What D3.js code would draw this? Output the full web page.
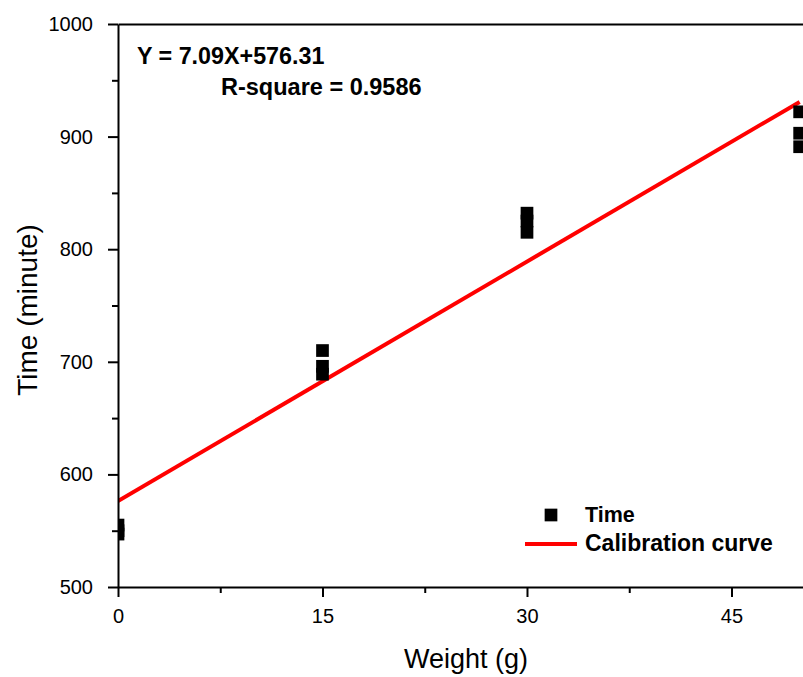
<!DOCTYPE html>
<html>
<head>
<meta charset="utf-8">
<script src="https://cdn.jsdelivr.net/npm/d3@7"></script>
<style>
  html, body { margin: 0; padding: 0; background: #fff; }
  svg { display: block; }
  text { font-family: "Liberation Sans", Arial, sans-serif; fill: #000; }
</style>
</head>
<body>
<svg id="chart" width="803" height="677"></svg>
<script>
// ---- data ----
const weights = [0, 0, 0, 15, 15, 15, 30, 30, 30, 50, 50, 50];
const times   = [555, 550, 547, 710, 696, 689, 832, 825, 815, 922, 903, 891];
const slope = 7.09;
const intercept = 576.31;
const fitRange = [0, 50];
const xMajorTicks = [0, 15, 30, 45];
const xMinorTicks = [7.5, 22.5, 37.5];
const yMajorTicks = [500, 600, 700, 800, 900, 1000];
const yMinorTicks = [550, 650, 750, 850, 950];
const equationText = "Y = 7.09X+576.31";
const rSquareText = "R-square = 0.9586";
const legendLabels = ["Time", "Calibration curve"];
const xTitle = "Weight (g)";
const yTitle = "Time (minute)";

(function () {
// ---- layout ----
const svg = d3.select("#chart");
const mLeft = 118, mTop = 24, mBottom = 587;
const pxPerUnit = 13.633;
const x = d3.scaleLinear().domain([0, 52]).range([mLeft, mLeft + 52 * pxPerUnit]);
const y = d3.scaleLinear().domain([500, 1000]).range([mBottom, mTop]);

svg.append("defs").append("clipPath").attr("id", "plotclip")
  .append("rect").attr("x", mLeft).attr("y", mTop).attr("width", 900).attr("height", mBottom - mTop);

const plot = svg.append("g").attr("clip-path", "url(#plotclip)");

// fit line
const fitLine = d3.line().x(d => x(d)).y(d => y(slope * d + intercept));
plot.append("path")
  .attr("d", fitLine(fitRange))
  .attr("stroke", "#ff0000").attr("stroke-width", 4).attr("fill", "none");

// points
const sq = 12.7;
plot.selectAll("rect.pt").data(weights.map((w, i) => [w, times[i]])).join("rect")
  .attr("class", "pt")
  .attr("x", d => x(d[0]) - sq / 2).attr("y", d => y(d[1]) - sq / 2)
  .attr("width", sq).attr("height", sq).attr("fill", "#000");

const fmt = d3.format("d");
// axes
const xAxis = d3.axisBottom(x).tickValues(xMajorTicks).tickFormat(fmt).tickSizeInner(10).tickSizeOuter(0).tickPadding(12);
const gx = svg.append("g").attr("transform", `translate(0,${mBottom})`).call(xAxis);
gx.attr("font-size", 20).attr("font-family", null);
gx.select(".domain").attr("stroke-width", 2);
gx.selectAll(".tick line").attr("stroke-width", 2);
const xMinor = d3.axisBottom(x).tickValues(xMinorTicks).tickSizeInner(6).tickSizeOuter(0).tickFormat("");
const gxm = svg.append("g").attr("transform", `translate(0,${mBottom})`).call(xMinor);
gxm.select(".domain").remove();
gxm.selectAll(".tick line").attr("stroke-width", 2);

const yAxis = d3.axisLeft(y).tickValues(yMajorTicks).tickFormat(fmt).tickSizeInner(10).tickSizeOuter(0).tickPadding(15);
const gy = svg.append("g").attr("transform", `translate(${mLeft},0)`).call(yAxis);
gy.attr("font-size", 20).attr("font-family", null);
gy.select(".domain").attr("stroke-width", 2);
gy.selectAll(".tick line").attr("stroke-width", 2);
const yMinor = d3.axisLeft(y).tickValues(yMinorTicks).tickSizeInner(6).tickSizeOuter(0).tickFormat("");
const gym = svg.append("g").attr("transform", `translate(${mLeft},0)`).call(yMinor);
gym.select(".domain").remove();
gym.selectAll(".tick line").attr("stroke-width", 2);

// top frame
const xTopAxis = d3.axisTop(x).tickValues([]).tickSizeOuter(0);
const gt = svg.append("g").attr("transform", `translate(0,${mTop})`).call(xTopAxis);
gt.select(".domain").attr("stroke-width", 2);

// axis titles
svg.append("text").attr("x", 466).attr("y", 668).attr("text-anchor", "middle")
  .attr("font-size", 27).text(xTitle);
svg.append("text").attr("transform", "translate(37,310) rotate(-90)").attr("text-anchor", "middle")
  .attr("font-size", 28).text(yTitle);

// equation
svg.append("text").attr("x", 137).attr("y", 64).attr("font-size", 23.3).attr("font-weight", "bold").text(equationText);
svg.append("text").attr("x", 221).attr("y", 95).attr("font-size", 23.5).attr("font-weight", "bold").text(rSquareText);

// legend
svg.append("rect").attr("x", 551 - sq / 2).attr("y", 515 - sq / 2).attr("width", sq).attr("height", sq).attr("fill", "#000");
svg.append("line").attr("x1", 525).attr("x2", 577).attr("y1", 544).attr("y2", 544)
  .attr("stroke", "#ff0000").attr("stroke-width", 4);
svg.append("text").attr("x", 585).attr("y", 522).attr("font-size", 21.5).attr("font-weight", "bold").text(legendLabels[0]);
svg.append("text").attr("x", 585).attr("y", 551).attr("font-size", 23).attr("font-weight", "bold").text(legendLabels[1]);
})();
</script>
</body>
</html>
